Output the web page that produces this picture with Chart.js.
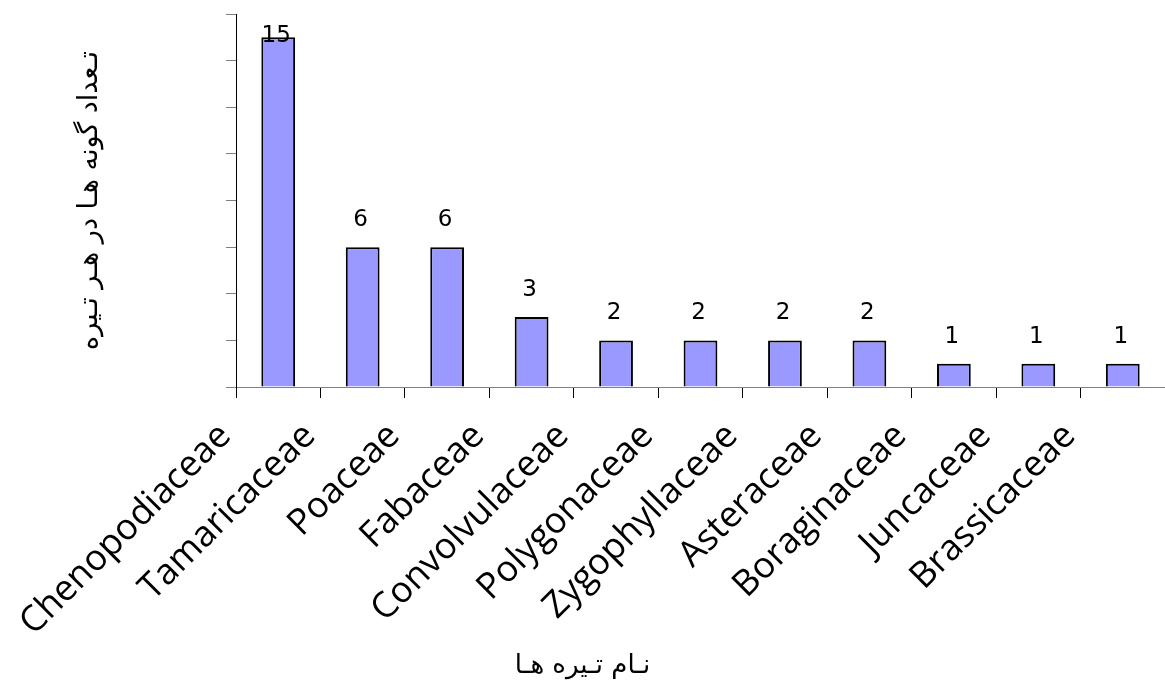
<!DOCTYPE html>
<html>
<head>
<meta charset="utf-8">
<script src="https://cdn.jsdelivr.net/npm/chart.js@4"></script>
<style>
  html, body { margin: 0; padding: 0; background: #fff; }
  #wrap { width: 1165px; height: 689px; }
</style>
</head>
<body>
<div id="wrap"><canvas id="tireChart"></canvas></div>
<script>
// families and number of species in each
var families = [
  "Chenopodiaceae", "Tamaricaceae", "Poaceae", "Fabaceae", "Convolvulaceae",
  "Polygonaceae", "Zygophyllaceae", "Asteraceae", "Boraginaceae", "Juncaceae", "Brassicaceae"
];
var speciesCount = [15, 6, 6, 3, 2, 2, 2, 2, 1, 1, 1];
var yTitle = "تـعداد گونه هـا در هـر تـیره";
var xTitle = "نـام تـیره هـا";

// value labels on top of the bars
var valueLabels = {
  id: "valueLabels",
  afterDatasetsDraw: function (chart) {
    var ctx = chart.ctx;
    var meta = chart.getDatasetMeta(0);
    ctx.save();
    ctx.font = "23px 'DejaVu Sans'";
    ctx.fillStyle = "#000";
    ctx.textAlign = "center";
    ctx.textBaseline = "middle";
    meta.data.forEach(function (bar, i) {
      var y = Math.max(bar.y - 27, chart.chartArea.top + 22);
      ctx.fillText(String(speciesCount[i]), bar.x - 2, y);
    });
    ctx.restore();
  }
};

var ctx = document.getElementById("tireChart").getContext("2d");
var tireChart = new Chart(ctx, {
  type: "bar",
  plugins: [valueLabels],
  data: {
    labels: families,
    datasets: [
      {
        data: speciesCount,
        backgroundColor: "#9999FF",
        borderColor: "#000",
        borderWidth: 2,
        barPercentage: 0.4,
        categoryPercentage: 1,
      },
    ],
  },
  options: {
    responsive: true,
    maintainAspectRatio: false,
    animation: false,
    layout: { padding: { left: 0, right: 0, top: 14, bottom: 0 } },
    plugins: {
      legend: { display: false },
      tooltip: { enabled: false },
      title: {
        display: true,
        position: "bottom",
        text: xTitle,
        color: "#000",
        font: { family: "DejaVu Sans", size: 26, weight: "normal" },
        padding: { top: 10, bottom: 7 },
      },
    },
    scales: {
      x: {
        offset: true,
        border: { color: "#808080", width: 1 },
        grid: { display: true, drawOnChartArea: false, color: "#000", tickLength: 11, offset: true },
        ticks: {
          minRotation: 45,
          maxRotation: 45,
          autoSkip: false,
          labelOffset: -53,
          padding: 17,
          color: "#000",
          font: { family: "Open Sans", size: 36 },
        },
        afterFit: function (s) {
          s.height = 689 - 387 - 48.2;
          s.paddingLeft = 0;
          s.paddingRight = 0;
        },
      },
      y: {
        min: 0,
        max: 16,
        border: { color: "#000", width: 1 },
        grid: { drawOnChartArea: false, color: "#808080", tickLength: 10 },
        ticks: { stepSize: 2, display: false },
        title: {
          display: true,
          text: yTitle,
          color: "#000",
          font: { family: "DejaVu Sans", size: 27, weight: "normal" },
          padding: { top: 74, bottom: 0 },
        },
        afterFit: function (s) { s.width = 236; },
      },
    },
  },
});
</script>
</body>
</html>
